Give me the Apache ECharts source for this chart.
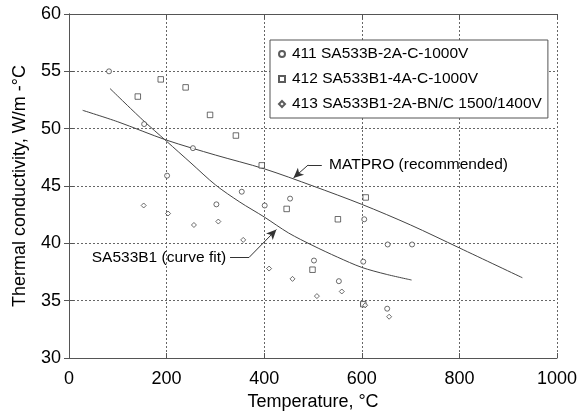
<!DOCTYPE html>
<html><head><meta charset="utf-8">
<script src="https://cdn.jsdelivr.net/npm/echarts@6/dist/echarts.min.js"></script>
<style>html,body{margin:0;padding:0;background:#fff}#c{width:587px;height:416px}</style>
</head><body><div id="c"></div>
<script>
// Data
const xTicks = [0, 200, 400, 600, 800, 1000];
const yTicks = [30, 35, 40, 45, 50, 55, 60];
const s411 = [[82,55.0],[154,50.4],[254,48.3],[201,45.9],[354,44.5],[302,43.4],[453,43.9],[401,43.3],[605,42.1],[502,38.5],[603,38.4],[553,36.7],[653,39.9],[703,39.9],[603,34.7],[652,34.3]];
const s412 = [[188,54.3],[239,53.6],[141,52.8],[289,51.2],[342,49.4],[395,46.8],[446,43.0],[551,42.1],[608,44.0],[499,37.7],[603,34.7]];
const s413 = [[153,43.3],[203,42.6],[256,41.6],[306,41.9],[357,40.3],[410,37.8],[458,36.9],[508,35.4],[559,35.8],[656,33.6],[607,34.6]];
const matproT = [28, 100, 200, 300, 400, 500, 600, 700, 800, 929];
const matproK = [51.6, 50.6, 49.0, 47.7, 46.5, 45.0, 43.4, 41.6, 39.6, 37.0];
const fitT = [84, 150, 200, 250, 300, 350, 400, 450, 500, 550, 600, 650, 702];
const fitK = [53.5, 50.8, 48.9, 47.0, 45.1, 43.6, 42.3, 40.9, 39.8, 38.8, 37.9, 37.3, 36.8];
const names = ['411 SA533B-2A-C-1000V', '412 SA533B1-4A-C-1000V', '413 SA533B1-2A-BN/C 1500/1400V'];
// annotations in data units
const annMatpro = {text:'MATPRO (recommended)', tip:[460,45.7], elbow:[490,46.83], end:[518,46.83], textAt:[533,46.83], align:'left'};
const annFit = {text:'SA533B1 (curve fit)', tip:[425,41.2], elbow:[369,38.77], end:[330,38.77], textAt:[322,38.77], align:'right'};

const FONT = 'Liberation Sans, Arial, sans-serif';
const axCol = '#555';
const chart = echarts.init(document.getElementById('c'));
const mk = (sym, size, data, name) => ({
  type:'scatter', name, data, symbol:sym, symbolSize:size,
  itemStyle:{color:'#fff', borderColor:'#333', borderWidth:0.9}, z:5
});
function annLines(a){
  return [
    [{coord:a.end},{coord:a.elbow, symbol:'none'}],
    [{coord:a.elbow},{coord:a.tip}]
  ];
}
chart.setOption({
  backgroundColor:'#fff',
  animation:false,
  textStyle:{fontFamily:FONT},
  grid:{left:69, right:30, top:14, bottom:58},
  xAxis:[{
    type:'value', min:0, max:1000, interval:200,
    name:'Temperature, °C', nameLocation:'middle', nameGap:35,
    nameTextStyle:{fontSize:18, color:'#000', fontFamily:FONT},
    axisLine:{onZero:false, lineStyle:{color:axCol, width:1}},
    axisTick:{inside:true, length:5, lineStyle:{color:axCol}},
    axisLabel:{fontSize:18, color:'#000', margin:12, fontFamily:FONT, formatter:v=>String(v)},
    splitLine:{show:true, lineStyle:{color:'#666', type:[2,2], width:1}}
  },{
    type:'value', position:'top', min:0, max:1000, interval:200,
    axisLine:{show:true, lineStyle:{color:axCol}},
    axisTick:{inside:true, length:5, lineStyle:{color:axCol}},
    axisLabel:{show:false}, splitLine:{show:false}
  }],
  yAxis:[{
    type:'value', min:30, max:60, interval:5,
    name:'Thermal conductivity, W/m -°C', nameLocation:'middle', nameGap:40,
    nameTextStyle:{fontSize:18, color:'#000', fontFamily:FONT},
    axisLine:{show:true, onZero:false, lineStyle:{color:axCol, width:1}},
    axisTick:{show:true, inside:true, length:5, lineStyle:{color:axCol}},
    axisLabel:{fontSize:18, color:'#000', margin:8, fontFamily:FONT},
    splitLine:{show:true, lineStyle:{color:'#666', type:[2,2], width:1}}
  },{
    type:'value', position:'right', min:30, max:60, interval:5,
    axisLine:{show:true, lineStyle:{color:axCol}},
    axisTick:{show:true, inside:true, length:5, lineStyle:{color:axCol}},
    axisLabel:{show:false}, splitLine:{show:false}
  }],
  legend:{
    orient:'vertical', left:270, top:40, padding:[6,6,6,8], itemGap:9,
    backgroundColor:'#fff', borderColor:'#555', borderWidth:1,
    itemWidth:6, itemHeight:6,
    textStyle:{fontSize:15.5, color:'#000', fontFamily:FONT, padding:[0,0,0,2], lineHeight:16},
    data:names
  },
  series:[
    mk('circle',5,s411,names[0]),
    mk('rect',5.5,s412,names[1]),
    mk('diamond',5,s413,names[2]),
    {type:'line', data:matproT.map((t,i)=>[t,matproK[i]]), showSymbol:false, smooth:0.3,
     lineStyle:{color:'#444', width:1}, z:3, silent:true,
     markLine:{silent:true, symbol:['none','arrow'], symbolSize:[7,10], label:{show:false},
       lineStyle:{color:'#333', width:1, type:'solid'}, data:annLines(annMatpro)}},
    {type:'line', data:fitT.map((t,i)=>[t,fitK[i]]), showSymbol:false, smooth:0.3,
     lineStyle:{color:'#444', width:1}, z:3, silent:true,
     markLine:{silent:true, symbol:['none','arrow'], symbolSize:[7,10], label:{show:false},
       lineStyle:{color:'#333', width:1, type:'solid'}, data:annLines(annFit)}}
  ]
});
function placeText(){
  const els = [annMatpro, annFit].map(a => {
    const p = chart.convertToPixel({xAxisIndex:0, yAxisIndex:0}, a.textAt);
    return {type:'text', x:p[0], y:p[1], z:10,
      style:{text:a.text, fontSize:15.5, fill:'#000', fontFamily:FONT, align:a.align, verticalAlign:'middle'}};
  });
  chart.setOption({graphic:els});
}
placeText();
</script></body></html>
